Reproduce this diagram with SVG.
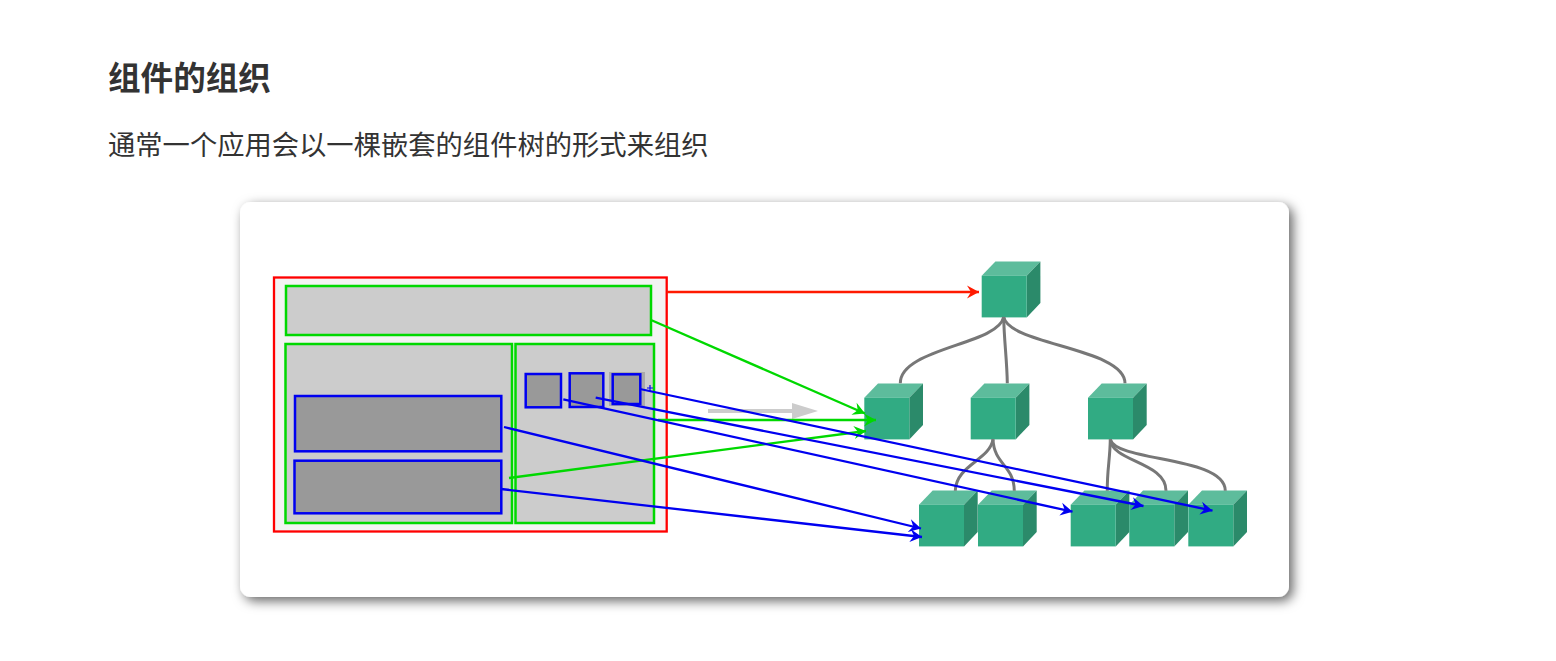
<svg xmlns="http://www.w3.org/2000/svg" width="1556" height="661" viewBox="0 0 1556 661">
<style>
text{font-family:"Noto Sans CJK SC","Liberation Sans",sans-serif;fill:#333}
.title{font-size:32.6px;font-weight:700}
.sub{font-size:27.3px}
.g{fill:#ccc;stroke:#00d800;stroke-width:2.500}
.b{fill:#999;stroke:#0000f0;stroke-width:2.500}
.tree{fill:none;stroke:#777;stroke-width:3}
.ar{fill:none;stroke:#ff1a00;stroke-width:2.300;marker-end:url(#mr)}
.ag{fill:none;stroke:#00d800;stroke-width:2.300;marker-end:url(#mg)}
.ab{fill:none;stroke:#0000f0;stroke-width:2.300;marker-end:url(#mb)}
.front{fill:#31ab83}
.top{fill:#5dbc9c}
.side{fill:#2b8a6a}
</style>
<defs>
<filter id="sh" x="-5%" y="-10%" width="110%" height="120%"><feDropShadow dx="4" dy="4" stdDeviation="6" flood-color="#000" flood-opacity=".6"/></filter>
<marker id="mr" markerUnits="userSpaceOnUse" markerWidth="16" markerHeight="16" refX="13" refY="8" orient="auto" overflow="visible"><path d="M1 1.500L13 8L1 14.500L5 8Z" fill="#ff1a00"/></marker>
<marker id="mg" markerUnits="userSpaceOnUse" markerWidth="16" markerHeight="16" refX="13" refY="8" orient="auto" overflow="visible"><path d="M1 1.500L13 8L1 14.500L5 8Z" fill="#00d800"/></marker>
<marker id="mb" markerUnits="userSpaceOnUse" markerWidth="16" markerHeight="16" refX="13" refY="8" orient="auto" overflow="visible"><path d="M1 1.500L13 8L1 14.500L5 8Z" fill="#0000f0"/></marker>
<g id="cube"><path class="top" d="M0 0L13.700 -14.300H58.700L45 0Z"/><path class="side" d="M45 0L58.700 -14.300V27.400L45 41.700Z"/><rect class="front" width="45" height="41.700"/></g>
</defs>
<rect width="1556" height="661" fill="#fff"/>
<text class="title" x="108" y="90">组件的组织</text>
<text class="sub" x="108" y="155">通常一个应用会以一棵嵌套的组件树的形式来组织</text>
<rect id="card" x="240" y="202" width="1049" height="395" rx="11" fill="#fff" filter="url(#sh)"/>
<g id="page"><rect x="274" y="277.500" width="392.700" height="254" fill="#f3f3f3" stroke="#ff0000" stroke-width="2.300"/></g>
<g id="header"><rect class="g" x="286" y="286" width="365" height="49"/></g>
<g id="main"><rect class="g" x="285.500" y="344" width="226.500" height="179"/></g>
<g id="sidebar"><rect class="g" x="515.500" y="344" width="138.500" height="179"/></g>
<g id="article1"><rect class="b" x="295" y="396" width="206.300" height="55.300"/></g>
<g id="article2"><rect class="b" x="294.500" y="460.700" width="206.800" height="52.600"/></g>
<g id="item1"><rect class="b" x="525.700" y="374" width="35.300" height="33.300"/></g>
<g id="item2"><rect class="b" x="569.700" y="373.300" width="33.600" height="33.700"/></g>
<g id="item3"><rect x="609" y="372" width="36" height="34" fill="#aaa"/><rect class="b" x="612.700" y="374.300" width="27.600" height="29.700"/></g>
<g id="gray-arrow"><path d="M708 409H792V403L818 411L792 419V413H708Z" fill="#ccc"/></g>
<g id="node-root"><use href="#cube" x="981.700" y="275.700"/></g>
<g id="node-a"><use href="#cube" x="864.300" y="397.700"/></g>
<g id="node-b"><use href="#cube" x="970.700" y="397.700"/></g>
<g id="node-c"><use href="#cube" x="1088" y="397.700"/></g>
<g id="node-b1"><use href="#cube" x="919" y="504.700"/></g>
<g id="node-b2"><use href="#cube" x="978" y="504.700"/></g>
<g id="node-c1"><use href="#cube" x="1070.700" y="504.700"/></g>
<g id="node-c2"><use href="#cube" x="1129.300" y="504.700"/></g>
<g id="node-c3"><use href="#cube" x="1188.300" y="504.700"/></g>
<g id="connectors">
<path class="tree" d="M1003.700 317C998 345 900 348 900.300 383.300"/>
<path class="tree" d="M1003.700 317C1004 340 1007 360 1007.300 383.300"/>
<path class="tree" d="M1003.700 317C1009 345 1125 348 1125 383.300"/>
<path class="tree" d="M993 439.300C990 460 956 465 955.300 490.700"/>
<path class="tree" d="M993 439.300C994 465 1014 465 1014.300 490.700"/>
<path class="tree" d="M1110.300 439.300C1110 460 1107 470 1107.300 490.700"/>
<path class="tree" d="M1110.300 439.300C1112 462 1166 462 1166 490.700"/>
<path class="tree" d="M1110.300 439.300C1116 462 1225 456 1225.300 490.700"/>
<path class="ar" d="M667 292H979"/>
<path class="ag" d="M651 320L865 413.500"/>
<path class="ag" d="M658 420H876"/>
<path class="ag" d="M509 478L866 431"/>
<path class="ab" d="M504 427L921 528.500"/>
<path class="ab" d="M501 489L922 537"/>
<path class="ab" d="M563.300 399.300L1072.500 511.700"/>
<path class="ab" d="M595.700 397.700L1143.500 506"/>
<path class="ab" d="M640 389L1212.500 510.700"/>
<path d="M650 385V391M647 388H653" stroke="#0000f0" stroke-width="1.200" fill="none"/>
</g>
</svg>
